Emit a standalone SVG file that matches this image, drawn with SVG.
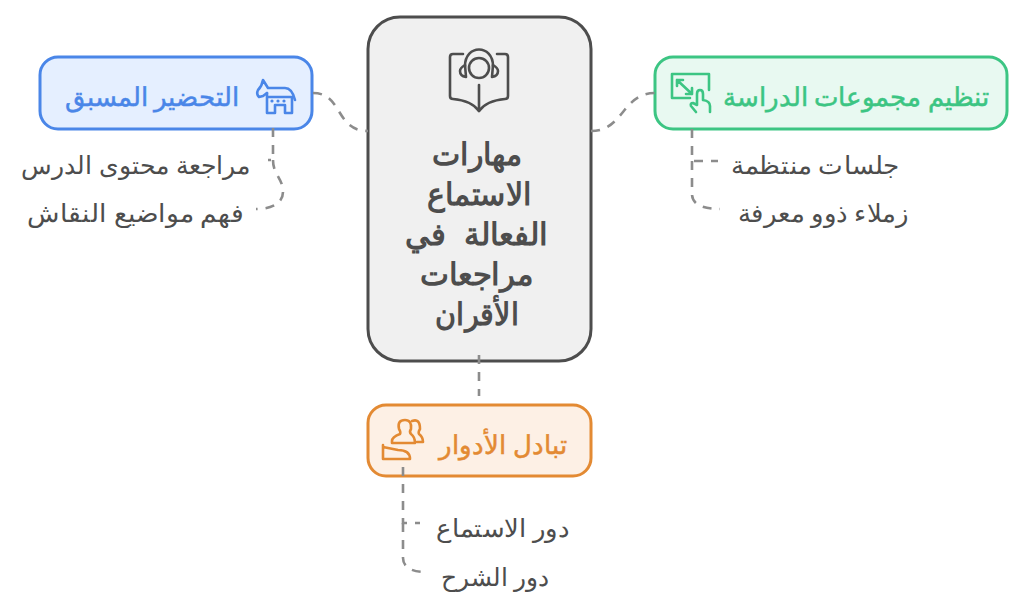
<svg xmlns="http://www.w3.org/2000/svg" width="1024" height="604" viewBox="0 0 1024 604">
<style>
text{font-family:"Noto Sans",sans-serif;text-anchor:middle;direction:rtl}
.n{font-size:26px;font-weight:500;stroke-width:.5}
.c{font-size:25px;fill:#4d4d4d}
.m{font-size:30.5px;font-weight:700;fill:#4d4d4d;word-spacing:10px}
.l{fill:none;stroke:#8c8c8c;stroke-width:2.6;stroke-dasharray:9 8}
.i{fill:none;stroke-width:2.6;stroke-linecap:round;stroke-linejoin:round}
</style>
<rect width="1024" height="604" fill="#fff"/>
<g id="center">
<rect x="368" y="17" width="223" height="344" rx="32" fill="#f0f0f0" stroke="#4d4d4d" stroke-width="3"/>
<g class="i" stroke="#4d4d4d"><path d="M463 54H453Q450 54 450 57V96Q450 99 453 99C465 100 474 104 479 111C484 104 493 100 505 99Q508 99 508 96V57Q508 54 505 54H497"/><path d="M479 85V111"/><circle cx="479" cy="68" r="10"/><path d="M465 66C465 44 493 44 493 66"/><path d="M465 65Q460 68 460 71Q460 76 466 77ZM493 65Q498 68 498 71Q498 76 492 77Z"/></g>
<text class="m" x="477" y="165" textLength="90" lengthAdjust="spacingAndGlyphs">مهارات</text>
<text class="m" x="479.5" y="205" textLength="105" lengthAdjust="spacingAndGlyphs">الاستماع</text>
<text class="m" x="476.5" y="245" textLength="143" lengthAdjust="spacingAndGlyphs">الفعالة في</text>
<text class="m" x="477" y="285" textLength="114" lengthAdjust="spacingAndGlyphs">مراجعات</text>
<text class="m" x="477" y="325" textLength="84" lengthAdjust="spacingAndGlyphs">الأقران</text>
</g>
<g id="prep">
<rect x="40" y="57" width="272" height="72" rx="18" fill="#e5efff" stroke="#4a86e8" stroke-width="3"/>
<g class="i" stroke="#4a86e8"><path d="M263 80L268 88H285Q292 88 295 100M263 80Q262 86 258 90Q256 94 259 97L263 96L267 93"/><path d="M267 93V113H275V105H285V113H292V97H267"/></g>
<g fill="#4a86e8"><circle cx="272" cy="101" r="1.6"/><circle cx="278" cy="101" r="1.6"/><circle cx="284" cy="101" r="1.6"/></g>
<text class="n" x="152" y="106" fill="#4a86e8" stroke="#4a86e8">التحضير المسبق</text>
</g>
<g id="prep1"><text class="c" x="135.5" y="174" textLength="229" lengthAdjust="spacingAndGlyphs">مراجعة محتوى الدرس</text></g>
<g id="prep2"><text class="c" x="135.5" y="222" textLength="217" lengthAdjust="spacingAndGlyphs">فهم مواضيع النقاش</text></g>
<g id="org">
<rect x="655" y="57" width="352" height="72" rx="18" fill="#e8f9f1" stroke="#3cc583" stroke-width="3"/>
<g class="i" stroke="#3cc583"><path d="M690 98H672V74H709V90"/><path d="M677 80L692 94M677 80V86M677 80H683M692 94V88M692 94H686"/><path d="M696 112L691 106Q690 103 693 103L697 105V94Q697 90 700 90Q703 90 703 94V100Q710 101 710 106V112"/></g>
<text class="n" x="856" y="106" fill="#3cc583" stroke="#3cc583">تنظيم مجموعات الدراسة</text>
</g>
<g id="org1"><text class="c" x="815" y="174" textLength="168" lengthAdjust="spacingAndGlyphs">جلسات منتظمة</text></g>
<g id="org2"><text class="c" x="823" y="222" textLength="170" lengthAdjust="spacingAndGlyphs">زملاء ذوو معرفة</text></g>
<g id="swap">
<rect x="368" y="405" width="223" height="71" rx="18" fill="#fdf0e5" stroke="#e38a33" stroke-width="3"/>
<g class="i" stroke="#e38a33"><path d="M392 443V441Q392 437 400 434Q401 432 399 429Q397 420 405 420Q412 420 411 429Q409 432 411 434Q415 437 415 443Z"/><path d="M412 421Q420 418 420 429Q418 432 419 434Q423 437 423 442H417"/><path d="M383 445V459M383 447L398 450Q410 450 410 459H383"/></g>
<text class="n" x="503" y="454" fill="#e38a33" stroke="#e38a33">تبادل الأدوار</text>
</g>
<g id="swap1"><text class="c" x="502.5" y="537" textLength="133" lengthAdjust="spacingAndGlyphs">دور الاستماع</text></g>
<g id="swap2"><text class="c" x="495" y="586" textLength="108" lengthAdjust="spacingAndGlyphs">دور الشرح</text></g>
<g id="connectors">
<path class="l" d="M313 93C343 93 335 131 368 131"/>
<path class="l" d="M591 131C624 131 622 93 655 93"/>
<path class="l" d="M479 355V396"/>
<path class="l" d="M273 128V160H268"/>
<path class="l" d="M273 160C273 175 283 178 283 192C283 203 272 209 256 209"/>
<path class="l" d="M692 129V161H718"/>
<path class="l" d="M692 161V194C692 203 700 209 720 209"/>
<path class="l" d="M403 467V523H420"/>
<path class="l" d="M403 523V558C403 566 410 572 425 572"/>
</g>
</svg>
